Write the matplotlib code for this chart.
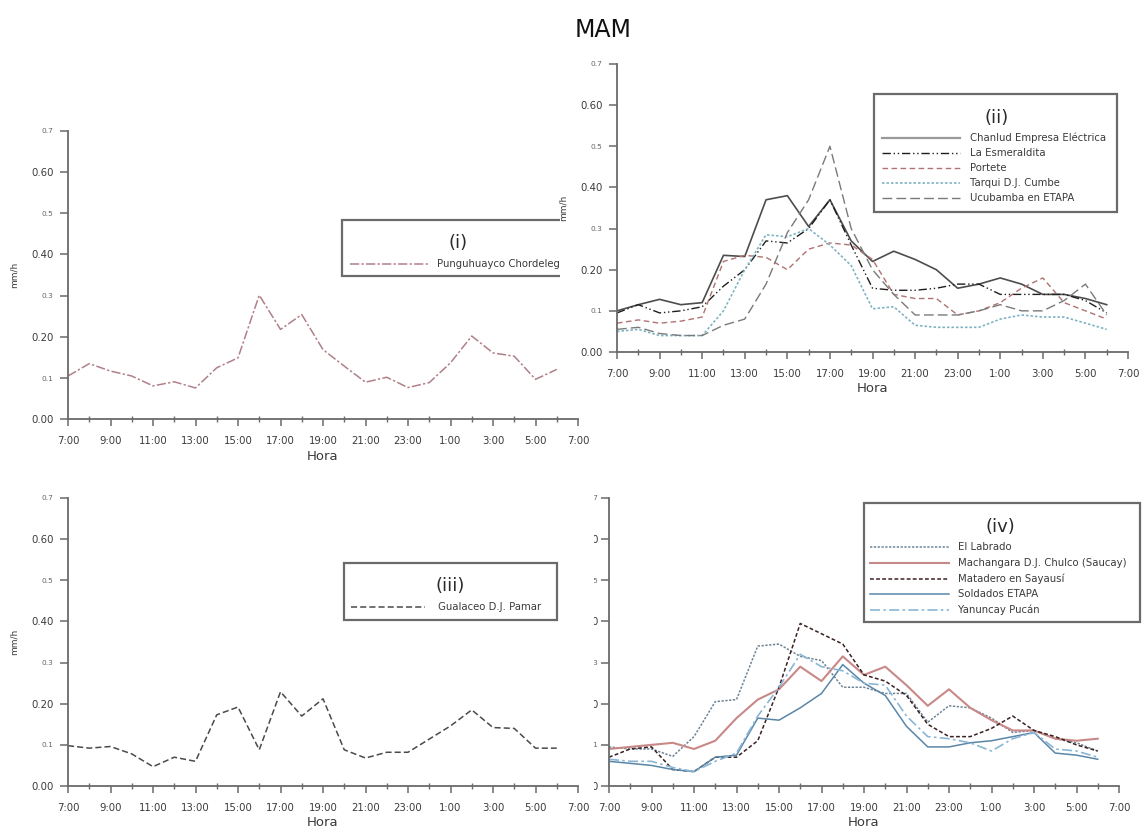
import matplotlib
matplotlib.use("Agg")
import matplotlib.pyplot as plt
from matplotlib.lines import Line2D
from matplotlib.patches import Rectangle

# ---------------- data ----------------
hours = list(range(24))  # 7:00 ... 6:00 (hours after 7:00)
major_tick_labels = ['7:00', '9:00', '11:00', '13:00', '15:00', '17:00', '19:00',
                     '21:00', '23:00', '1:00', '3:00', '5:00', '7:00']
y_tick_values = [0.0, 0.1, 0.2, 0.3, 0.4, 0.5, 0.6, 0.7]
y_tick_labels = ['0.00', '0.1', '0.20', '0.3', '0.40', '0.5', '0.60', '0.7']

punguhuayco = [0.105, 0.135, 0.117, 0.105, 0.081, 0.091, 0.076, 0.125, 0.149, 0.301, 0.218, 0.254,
               0.169, 0.129, 0.090, 0.102, 0.077, 0.089, 0.137, 0.202, 0.161, 0.153, 0.097, 0.121]

gualaceo = [0.098, 0.092, 0.096, 0.078, 0.047, 0.070, 0.060, 0.173, 0.192, 0.088, 0.229, 0.170,
            0.212, 0.088, 0.068, 0.082, 0.082, 0.114, 0.146, 0.185, 0.142, 0.140, 0.092, 0.092]

chanlud = [0.100, 0.115, 0.128, 0.115, 0.120, 0.235, 0.232, 0.370, 0.380, 0.305, 0.370, 0.270,
           0.220, 0.245, 0.225, 0.200, 0.155, 0.165, 0.180, 0.165, 0.140, 0.140, 0.130, 0.115]
esmeraldita = [0.095, 0.115, 0.095, 0.100, 0.110, 0.160, 0.200, 0.270, 0.265, 0.300, 0.370, 0.260,
               0.155, 0.150, 0.150, 0.155, 0.165, 0.165, 0.140, 0.140, 0.140, 0.140, 0.125, 0.095]
portete = [0.070, 0.078, 0.070, 0.075, 0.085, 0.220, 0.235, 0.230, 0.200, 0.250, 0.265, 0.260,
           0.225, 0.140, 0.130, 0.130, 0.090, 0.100, 0.120, 0.155, 0.180, 0.120, 0.100, 0.080]
tarqui = [0.050, 0.055, 0.040, 0.040, 0.040, 0.100, 0.200, 0.285, 0.280, 0.300, 0.260, 0.210,
          0.105, 0.110, 0.065, 0.060, 0.060, 0.060, 0.080, 0.090, 0.085, 0.085, 0.070, 0.055]
ucubamba = [0.055, 0.060, 0.045, 0.040, 0.040, 0.065, 0.080, 0.165, 0.290, 0.370, 0.500, 0.300,
            0.200, 0.140, 0.090, 0.090, 0.090, 0.100, 0.115, 0.100, 0.100, 0.125, 0.165, 0.090]

labrado = [0.095, 0.090, 0.090, 0.072, 0.120, 0.205, 0.210, 0.340, 0.345, 0.315, 0.305, 0.240,
           0.240, 0.225, 0.225, 0.155, 0.195, 0.190, 0.165, 0.130, 0.135, 0.115, 0.105, 0.085]
machangara = [0.090, 0.095, 0.100, 0.105, 0.090, 0.110, 0.165, 0.210, 0.235, 0.290, 0.255, 0.315,
              0.270, 0.290, 0.245, 0.195, 0.235, 0.190, 0.160, 0.135, 0.135, 0.115, 0.110, 0.115]
matadero = [0.070, 0.090, 0.095, 0.040, 0.035, 0.070, 0.070, 0.110, 0.240, 0.395, 0.370, 0.345,
            0.270, 0.255, 0.220, 0.150, 0.120, 0.120, 0.140, 0.170, 0.135, 0.120, 0.100, 0.085]
soldados = [0.060, 0.055, 0.050, 0.040, 0.035, 0.070, 0.075, 0.165, 0.160, 0.190, 0.225, 0.295,
            0.250, 0.220, 0.145, 0.095, 0.095, 0.105, 0.110, 0.120, 0.130, 0.080, 0.075, 0.065]
yanuncay = [0.065, 0.060, 0.060, 0.045, 0.035, 0.060, 0.080, 0.170, 0.240, 0.320, 0.290, 0.280,
            0.250, 0.245, 0.170, 0.120, 0.115, 0.105, 0.085, 0.115, 0.130, 0.090, 0.085, 0.070]

# ---------------- layout ----------------
W, H = 1148, 834
plt.rcParams['font.family'] = ['DejaVu Sans']
fig = plt.figure(figsize=(W / 100, H / 100), dpi=100)
fig.patch.set_facecolor('white')


def fx(x):
    return x / W


def fy(y):
    return 1 - y / H


def make_axes(x0, x1, ytop, ybot):
    return fig.add_axes([fx(x0), fy(ybot), (x1 - x0) / W, (ybot - ytop) / H])


AX_COL = '#6a6a6a'
TXT_COL = '#3a3a3a'


def style_axes(ax, ylabel=True, ypad=4.5):
    ax.set_xlim(0, 24)
    ax.set_ylim(0, 0.7)
    for s in ['top', 'right']:
        ax.spines[s].set_visible(False)
    for s in ['left', 'bottom']:
        ax.spines[s].set_color(AX_COL)
        ax.spines[s].set_linewidth(1.3)
    ax.set_xticks(range(0, 25, 2))
    ax.set_xticklabels(major_tick_labels)
    ax.set_xticks(range(1, 24, 2), minor=True)
    ax.set_yticks(y_tick_values)
    ax.set_yticklabels(y_tick_labels)
    ax.tick_params(axis='x', which='major', direction='out', length=5, width=1.1,
                   color=AX_COL, labelsize=7.3, labelcolor=TXT_COL, pad=7)
    ax.tick_params(axis='x', which='minor', direction='inout', length=4, width=1.0,
                   color=AX_COL)
    ax.tick_params(axis='y', which='major', direction='out', length=6, width=1.1,
                   color=AX_COL, labelsize=7.3, labelcolor=TXT_COL, pad=ypad)
    for i, lab in enumerate(ax.get_yticklabels()):
        if i % 2 == 1:
            lab.set_fontsize(5.3)
            lab.set_color('#666666')
    ax.set_xlabel('Hora', fontsize=9.5, color=TXT_COL)
    ax.xaxis.set_label_coords(0.5, -0.105)
    if ylabel:
        ax.set_ylabel('mm/h', fontsize=6.5, color=TXT_COL)
        ax.yaxis.set_label_coords(-0.097, 0.5)
    ax.patch.set_alpha(0)


def legend_box(x0, y0, x1, y1, title, tx, ty, entries, lx0, lx1, textx, ys, z=5):
    r = Rectangle((fx(x0), fy(y1)), (x1 - x0) / W, (y1 - y0) / H, transform=fig.transFigure,
                  facecolor='white', edgecolor='#6a6a6a', linewidth=1.6, zorder=z)
    fig.add_artist(r)
    fig.text(fx(tx), fy(ty), title, ha='center', va='center', fontsize=13,
             color='#2a2a2a', zorder=z + 0.01)
    for (label, kw), yy in zip(entries, ys):
        ln = Line2D([fx(lx0), fx(lx1)], [fy(yy), fy(yy)], transform=fig.transFigure,
                    zorder=z + 0.01, **kw)
        fig.add_artist(ln)
        fig.text(fx(textx), fy(yy), label, ha='left', va='center', fontsize=7.3,
                 color='#3a3a3a', zorder=z + 0.01)


# line styles
st_pung = dict(color='#b08088', linewidth=1.1, linestyle=(0, (6, 1.5, 1.5, 1.5)))
st_gual = dict(color='#4a4a4a', linewidth=1.1, linestyle=(0, (4, 2)))
st_chan = dict(color='#4d4d4d', linewidth=1.2, linestyle='-')
st_esme = dict(color='#1e1e1e', linewidth=1.0, linestyle=(0, (6, 2, 1, 2, 1, 2)))
st_port = dict(color='#b07272', linewidth=1.0, linestyle=(0, (4, 2.5)))
st_tarq = dict(color='#7fb3c4', linewidth=1.2, linestyle=(0, (1.5, 1.2)))
st_ucub = dict(color='#7a7a7a', linewidth=1.0, linestyle=(0, (7, 3)))
st_labr = dict(color='#6e8496', linewidth=1.1, linestyle=(0, (1.5, 1.0)))
st_mach = dict(color='#c98888', linewidth=1.5, linestyle='-')
st_mata = dict(color='#3a2020', linewidth=1.1, linestyle=(0, (2.5, 1.5)))
st_sold = dict(color='#5a86a8', linewidth=1.1, linestyle='-')
st_yanu = dict(color='#8ab6d6', linewidth=1.2, linestyle=(0, (6, 2, 1.5, 2)))

# ---------------- panel (i) ----------------
ax1 = make_axes(68, 578, 130.7, 419.3)
style_axes(ax1)
ax1.plot(hours, punguhuayco, **st_pung)
ax1.set_zorder(1)

# ---------------- panel (ii) ----------------
ax2 = make_axes(617, 1128, 64, 352)
style_axes(ax2)
ax2.plot(hours, chanlud, **st_chan)
ax2.plot(hours, esmeraldita, **st_esme)
ax2.plot(hours, portete, **st_port)
ax2.plot(hours, tarqui, **st_tarq)
ax2.plot(hours, ucubamba, **st_ucub)
ax2.set_zorder(2)

# ---------------- panel (iii) ----------------
ax3 = make_axes(68, 578, 498, 786)
style_axes(ax3)
ax3.plot(hours, gualaceo, **st_gual)
ax3.set_zorder(3)

# ---------------- panel (iv) ----------------
ax4 = make_axes(609, 1119, 498, 786)
style_axes(ax4, ylabel=False, ypad=1.5)
ax4.plot(hours, labrado, **st_labr)
ax4.plot(hours, machangara, **st_mach)
ax4.plot(hours, matadero, **st_mata)
ax4.plot(hours, soldados, **st_sold)
ax4.plot(hours, yanuncay, **st_yanu)
ax4.set_zorder(0)

# white strips: overlapping panel pictures hide parts of neighbours
fig.add_artist(Rectangle((fx(540), fy(834)), (594 - 540) / W, (834 - 480) / H,
                         transform=fig.transFigure, facecolor='white', edgecolor='none',
                         zorder=0.5))
fig.add_artist(Rectangle((fx(560), fy(400)), (W - 560) / W, (400 - 45) / H,
                         transform=fig.transFigure, facecolor='white', edgecolor='none',
                         zorder=1.5))

# ---------------- legends ----------------
legend_box(342, 220, 640, 276, '(i)', 458, 243,
           [('Punguhuayco Chordeleg', st_pung)], 350, 429, 437, [264], z=1.2)

legend_box(874, 94, 1117, 212, '(ii)', 997, 118,
           [('Chanlud Empresa Eléctrica', dict(st_chan, color='#9a9a9a', linewidth=1.6)),
            ('La Esmeraldita', st_esme),
            ('Portete', st_port),
            ('Tarqui D.J. Cumbe', st_tarq),
            ('Ucubamba en ETAPA', st_ucub)],
           882, 960, 970, [138, 153, 168, 183, 198], z=6)

legend_box(344, 563, 557, 620, '(iii)', 450, 586,
           [('Gualaceo D.J. Pamar', st_gual)], 351, 425, 438, [607], z=7)

legend_box(864, 503, 1140, 622, '(iv)', 1000, 527,
           [('El Labrado', st_labr),
            ('Machangara D.J. Chulco (Saucay)', st_mach),
            ('Matadero en Sayausí', st_mata),
            ('Soldados ETAPA', st_sold),
            ('Yanuncay Pucán', st_yanu)],
           870, 949, 958, [547, 563, 579, 594, 610], z=4)

fig.text(fx(603), fy(30), 'MAM', ha='center', va='center', fontsize=17, color='#111111',
         zorder=10)

fig.savefig('out.png', dpi=100, facecolor='white')
